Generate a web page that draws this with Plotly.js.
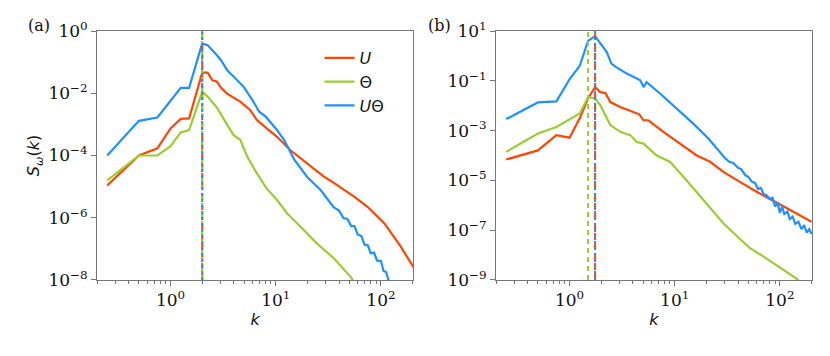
<!DOCTYPE html>
<html>
<head>
<meta charset="utf-8">
<script src="https://cdn.plot.ly/plotly-3.0.1.min.js"></script>
<style>
  html, body { margin: 0; padding: 0; background: #fff; }
  #chart { width: 830px; height: 356px; }
</style>
</head>
<body>
<div id="chart"></div>
<script>
// panel (a) spectra
const kA_U = [0.25, 0.5, 0.75, 1, 1.25, 1.5, 2, 2.25, 2.5, 2.75, 3, 3.4, 4, 4.6, 5.7, 6.6, 8.2, 10.3, 13.7, 20, 28.7, 36, 56, 75, 108, 155, 210];
const sA_U = [1.1e-5, 1.0e-4, 1.7e-4, 7.4e-4, 1.5e-3, 1.55e-3, 4.6e-2, 4.6e-2, 2.6e-2, 2.4e-2, 1.55e-2, 1.0e-2, 7.1e-3, 5.4e-3, 2.9e-3, 1.4e-3, 7.4e-4, 4.0e-4, 1.5e-4, 5.6e-5, 2.1e-5, 1.3e-5, 4.7e-6, 2.2e-6, 6.6e-7, 1.15e-7, 2.2e-8];

const kA_T = [0.25, 0.5, 0.75, 1, 1.25, 1.5, 2, 2.25, 2.75, 3.4, 3.95, 4.6, 5.3, 6.4, 8.2, 10.3, 12.8, 17.2, 24.6, 35.8, 51.6, 56];
const sA_T = [1.6e-5, 1.0e-4, 1.0e-4, 2.0e-4, 5.5e-4, 6.6e-4, 1.1e-2, 7.8e-3, 3.5e-3, 1.07e-3, 4.6e-4, 3.2e-4, 1.0e-4, 3.2e-5, 8.7e-6, 3.7e-6, 1.4e-6, 5.1e-7, 1.5e-7, 4.9e-8, 1.26e-8, 8e-9];

const kA_UT = [0.25, 0.5, 0.75, 1.25, 1.5, 2, 2.25, 2.5, 2.75, 3, 3.5, 4, 5, 6, 7, 8, 10, 12, 15, 20, 26.7, 35.5,
  40, 44, 48, 52, 56, 60, 65, 70, 75, 80, 86, 92, 100, 106, 112, 118, 124];
const sA_UT = [1.0e-4, 1.3e-3, 1.66e-3, 1.5e-2, 1.5e-2, 0.4, 0.35, 0.245, 0.17, 0.117, 5.2e-2, 3.4e-2, 1.55e-2, 6.0e-3, 2.5e-3, 1.8e-3, 7.4e-4, 3.2e-4, 7.4e-5, 2.0e-5, 7.8e-6, 2.2e-6,
  1.7e-6, 9.8e-7, 9.1e-7, 5.5e-7, 5.4e-7, 2.9e-7, 2.6e-7, 1.35e-7, 1.3e-7, 7.2e-8, 7.6e-8, 4.2e-8, 4.1e-8, 1.95e-8, 1.8e-8, 1.0e-8, 7.9e-9];

// panel (b) spectra
const kB_U = [0.25, 0.5, 0.75, 1, 1.25, 1.5, 1.75, 1.96, 2.2, 2.44, 3.03, 4.06, 4.6, 5.05, 5.6, 7.8, 11.3, 16.2, 21.7, 29, 42, 60, 90, 130, 200];
const sB_U = [6.9e-5, 1.6e-4, 6.6e-4, 5.2e-4, 3.1e-3, 1.95e-2, 5.6e-2, 3.5e-2, 3.2e-2, 1.4e-2, 8.9e-3, 5.6e-3, 4.5e-3, 2.6e-3, 2.6e-3, 8.9e-4, 3.0e-4, 1.0e-4, 5.6e-5, 2.2e-5, 8.5e-6, 3.5e-6, 1.4e-6, 5.9e-7, 2.2e-7];

const kB_T = [0.25, 0.5, 0.75, 1.25, 1.5, 1.75, 1.96, 2.44, 3.03, 3.77, 4.36, 5.05, 6.75, 9.0, 12.1, 15, 20, 29, 40, 52, 70, 93, 120, 150];
const sB_T = [1.4e-4, 7.6e-4, 1.4e-3, 4.9e-3, 2.2e-2, 1.95e-2, 1.05e-2, 1.66e-3, 8.9e-4, 6.6e-4, 3.5e-4, 3.0e-4, 1.0e-4, 5.6e-5, 1.4e-5, 4.8e-6, 1.15e-6, 1.9e-7, 5.2e-8, 1.9e-8, 8.7e-9, 4.0e-9, 1.95e-9, 1.0e-9];

const kB_UT = [0.25, 0.5, 0.75, 1, 1.25, 1.5, 1.75, 2, 2.25, 2.5, 2.75, 3.5, 4.36, 4.7, 5.05, 5.4, 7.25, 10.4, 15, 20.9, 25,
  30, 33, 36, 40, 43, 47, 50, 54, 58, 62, 66, 70, 75, 80, 85, 90, 95, 100, 105, 110, 118, 124, 132, 140, 150, 160, 170, 180, 190, 200];
const sB_UT = [2.9e-3, 1.35e-2, 1.5e-2, 0.115, 0.4, 4.0, 6.2, 2.7, 1.45, 0.49, 0.36, 0.195, 0.123, 0.105, 0.056, 0.089, 0.031, 7.8e-3, 1.9e-3, 4.8e-4, 1.9e-4,
  7.9e-5, 5.6e-5, 5.0e-5, 3.2e-5, 2.8e-5, 1.6e-5, 1.4e-5, 8.9e-6, 7.9e-6, 4.5e-6, 5.0e-6, 2.8e-6, 2.5e-6, 1.8e-6, 2.0e-6, 8.9e-7, 1.26e-6, 5.0e-7, 8.9e-7, 4.5e-7, 5.6e-7, 2.8e-7, 3.5e-7, 1.8e-7, 2.2e-7, 1.1e-7, 1.6e-7, 7.9e-8, 1.1e-7, 7.1e-8];

// peak wavenumbers (vertical dashed lines) for U, Theta, U*Theta
const peakA = [2, 2, 2];
const peakB = [1.75, 1.5, 1.75];

const names = ['<i>U</i>', 'Θ', '<i>U</i>Θ'];
const colors = ['#ff4500', '#9acd32', '#1e90ff'];
const dashes = ['7px,3px', '5px,4px', '3px,3px'];

const xTickVals = [1, 10, 100];
const xTickText = ['10<sup>0</sup>', '10<sup>1</sup>', '10<sup>2</sup>'];
const xMinor = [0.2, 0.3, 0.4, 0.5, 0.6, 0.7, 0.8, 0.9, 2, 3, 4, 5, 6, 7, 8, 9, 20, 30, 40, 50, 60, 70, 80, 90, 200];
const yTickValsA = [1e-8, 1e-6, 1e-4, 1e-2, 1];
const yTickTextA = ['10<sup>−8</sup>', '10<sup>−6</sup>', '10<sup>−4</sup>', '10<sup>−2</sup>', '10<sup>0</sup>'];
const yTickValsB = [1e-9, 1e-7, 1e-5, 1e-3, 1e-1, 10];
const yTickTextB = ['10<sup>−9</sup>', '10<sup>−7</sup>', '10<sup>−5</sup>', '10<sup>−3</sup>', '10<sup>−1</sup>', '10<sup>1</sup>'];

const seriesA = [[kA_U, sA_U], [kA_T, sA_T], [kA_UT, sA_UT]];
const seriesB = [[kB_U, sB_U], [kB_T, sB_T], [kB_UT, sB_UT]];

const traces = [];
seriesA.forEach(([k, s], i) => {
  traces.push({ x: k, y: s, xaxis: 'x', yaxis: 'y', type: 'scatter', mode: 'lines',
    name: names[i], line: { color: colors[i], width: 2.2 }, showlegend: true });
});
seriesB.forEach(([k, s], i) => {
  traces.push({ x: k, y: s, xaxis: 'x2', yaxis: 'y2', type: 'scatter', mode: 'lines',
    name: names[i], line: { color: colors[i], width: 2.2 }, showlegend: false });
});

const shapes = [];
peakA.forEach((k, i) => {
  shapes.push({ type: 'line', xref: 'x', yref: 'y domain', x0: k, x1: k, y0: 0, y1: 1,
    line: { color: colors[i], width: 2, dash: dashes[i] } });
});
peakB.forEach((k, i) => {
  shapes.push({ type: 'line', xref: 'x2', yref: 'y2 domain', x0: k, x1: k, y0: 0, y1: 1,
    line: { color: colors[i], width: 2, dash: dashes[i] } });
});

const tickFont = { family: 'DejaVu Serif', size: 17, color: '#111' };
const frame = { showline: true, mirror: true, linecolor: '#777', linewidth: 1, showgrid: false, zeroline: false,
  ticks: 'outside', ticklen: 5, tickcolor: '#777', tickfont: tickFont };

function xAxis(domain, anchor) {
  return Object.assign({}, frame, {
    type: 'log', domain: domain, anchor: anchor, range: [Math.log10(0.2), 2.305],
    tickmode: 'array', tickvals: xTickVals, ticktext: xTickText,
    minor: { ticks: 'outside', ticklen: 3, tickcolor: '#777', tickmode: 'array', tickvals: xMinor, showgrid: false },
    title: { text: '<i>k</i>', font: { family: 'DejaVu Sans', size: 16, color: '#111' }, standoff: 4 }
  });
}
function yAxis(anchor, range, vals, text, title) {
  return Object.assign({}, frame, {
    type: 'log', domain: [0.2135, 0.9129], anchor: anchor, range: range,
    tickmode: 'array', tickvals: vals, ticktext: text,
    title: { text: title, font: { family: 'DejaVu Sans', size: 16, color: '#111' }, standoff: 4 }
  });
}

const layout = {
  width: 830, height: 356,
  margin: { l: 0, r: 0, t: 0, b: 0 },
  paper_bgcolor: '#fff', plot_bgcolor: '#fff',
  xaxis: xAxis([0.1169, 0.4976], 'y'),
  yaxis: yAxis('x', [-8, 0], yTickValsA, yTickTextA, '<i>S</i><sub><i>ω</i></sub>(<i>k</i>)'),
  xaxis2: xAxis([0.5976, 0.9783], 'y2'),
  yaxis2: yAxis('x2', [-9, 1], yTickValsB, yTickTextB, ''),
  shapes: shapes,
  legend: { x: 0.385, y: 0.885, xanchor: 'left', yanchor: 'top', bgcolor: 'rgba(0,0,0,0)',
    font: { family: 'DejaVu Sans', size: 16, color: '#111' }, tracegroupgap: 0 },
  annotations: [
    { text: '(a)', xref: 'paper', yref: 'paper', x: 39 / 830, y: 1 - 25 / 356, xanchor: 'center', yanchor: 'middle',
      showarrow: false, font: { family: 'DejaVu Serif', size: 16, color: '#111' } },
    { text: '(b)', xref: 'paper', yref: 'paper', x: 439 / 830, y: 1 - 25 / 356, xanchor: 'center', yanchor: 'middle',
      showarrow: false, font: { family: 'DejaVu Serif', size: 16, color: '#111' } }
  ]
};

Plotly.newPlot('chart', traces, layout, { displayModeBar: false, staticPlot: true });
</script>
</body>
</html>
